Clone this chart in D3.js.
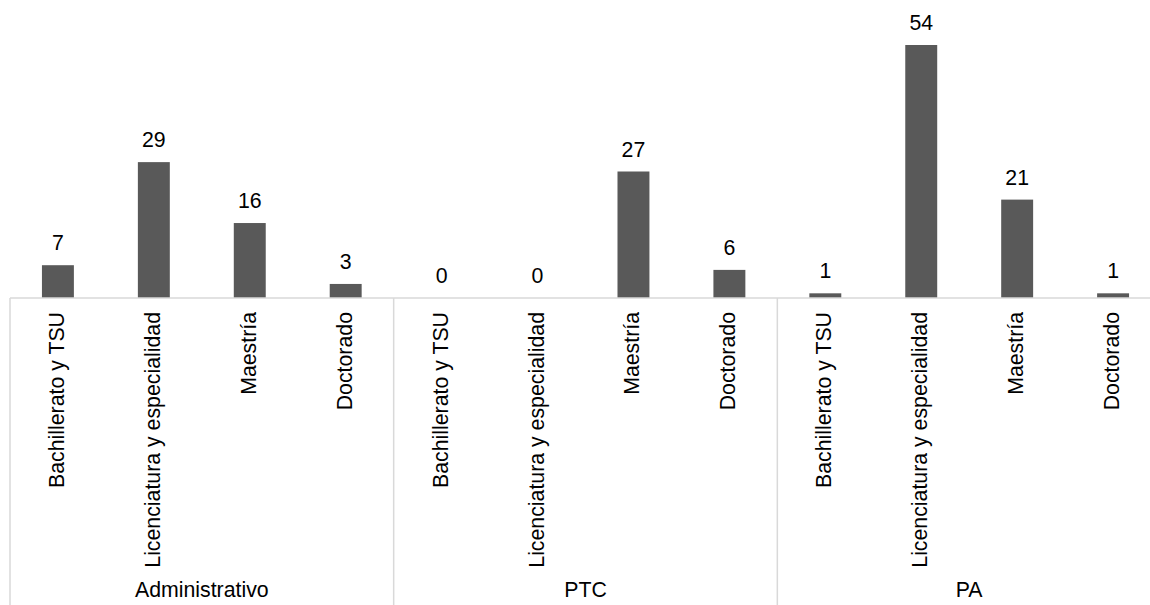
<!DOCTYPE html>
<html><head><meta charset="utf-8">
<script src="https://cdn.jsdelivr.net/npm/d3@7"></script>
<style>body{margin:0;background:#fff}svg{display:block}text{font-family:"Liberation Sans",Arial,sans-serif}</style>
</head><body><svg id="c" width="1150" height="605"></svg>
<script>
const groups = ["Administrativo","PTC","PA"];
const levels = ["Bachillerato y TSU","Licenciatura y especialidad","Maestría","Doctorado"];
const values = [
  [7, 29, 16, 3],
  [0, 0, 27, 6],
  [1, 54, 21, 1]
];
const data = [];
groups.forEach((g,gi)=>levels.forEach((l,li)=>data.push({g, l, v: values[gi][li], key: g+"|"+l})));

const svg = d3.select("#c");
const x0 = 10, x1 = 1161, base = 298;
const fs = 21.3;
const x = d3.scaleBand().domain(data.map(d=>d.key)).range([x0, x1]).paddingInner(0.667).paddingOuter(0.333);
const y = d3.scaleLinear().domain([0, 54]).range([base, 45]);
const band = (x1 - x0) / data.length;

svg.selectAll("rect.bar").data(data).join("rect")
  .attr("class","bar")
  .attr("x", d=>x(d.key)).attr("width", x.bandwidth())
  .attr("y", d=>y(d.v)).attr("height", d=>base - y(d.v))
  .attr("fill", "#595959");

svg.selectAll("text.val").data(data).join("text")
  .attr("class","val")
  .attr("x", d=>x(d.key)+x.bandwidth()/2)
  .attr("y", d=>y(d.v)-15)
  .attr("text-anchor","middle")
  .attr("font-size", fs).attr("fill","#000")
  .text(d=>d.v);

// axis lines
const lineColor = "#d9d9d9";
svg.append("line").attr("x1", x0).attr("x2", 1150).attr("y1", base).attr("y2", base).attr("stroke", lineColor).attr("stroke-width", 1.5);
groups.forEach((g,gi)=>{
  const xs = x0 + gi*levels.length*band;
  svg.append("line").attr("x1", xs).attr("x2", xs).attr("y1", base).attr("y2", 605).attr("stroke", lineColor).attr("stroke-width", 1.5);
  svg.append("text").attr("x", xs + levels.length*band/2).attr("y", 597)
    .attr("text-anchor","middle").attr("font-size", fs).attr("fill","#000").text(g);
});

svg.selectAll("text.cat").data(data).join("text")
  .attr("class","cat")
  .attr("transform", d=>`translate(${x(d.key)+x.bandwidth()/2+6},312) rotate(-90)`)
  .attr("text-anchor","end")
  .attr("font-size", fs).attr("fill","#000")
  .text(d=>d.l);
</script></body></html>
